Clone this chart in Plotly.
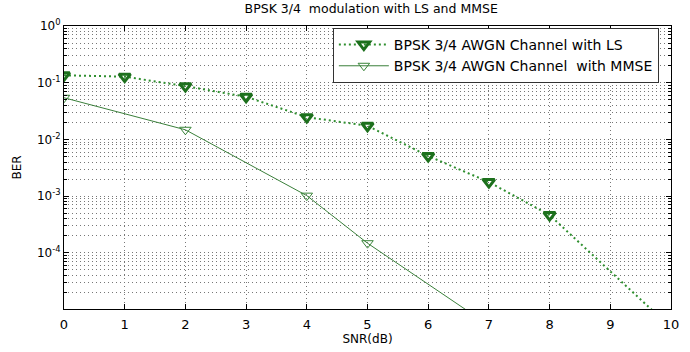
import plotly.graph_objects as go

# ---- data ----
snr_ls = [0, 1, 2, 3, 4, 5, 6, 7, 8, 10]
ber_ls = [0.135, 0.128, 0.087, 0.0565, 0.0247, 0.0174, 0.0051, 0.00177, 0.000464, 4.8e-6]

snr_mmse = [0, 2, 4, 5, 8]
ber_mmse = [0.0543, 0.0148, 0.00102, 0.000148, 1.0e-6]

x_ticks = [0, 1, 2, 3, 4, 5, 6, 7, 8, 9, 10]
x_ticktext = ["0", "1", "2", "3", "4", "5", "6", "7", "8", "9", "10"]
y_ticks = [1e-4, 1e-3, 1e-2, 1e-1, 1e0]
y_ticktext = ["10<sup>-4</sup>", "10<sup>-3</sup>", "10<sup>-2</sup>", "10<sup>-1</sup>", "10<sup>0</sup>"]

title_text = "BPSK 3/4\u00a0\u00a0modulation with LS and MMSE"
name_ls = "BPSK 3/4 AWGN Channel with LS"
name_mmse = "BPSK 3/4 AWGN Channel\u00a0\u00a0with MMSE"

FONT = "DejaVu Sans"
GRID = "#777777"

fig = go.Figure()
fig.add_trace(go.Scatter(
    x=snr_ls, y=ber_ls, name=name_ls, mode="lines+markers",
    line=dict(color="#2f8f2f", width=2, dash="2px,3px"),
    marker=dict(symbol="triangle-down-open", size=10, color="#1d701d",
                line=dict(width=3, color="#1d701d")),
))
fig.add_trace(go.Scatter(
    x=snr_mmse, y=ber_mmse, name=name_mmse, mode="lines+markers",
    line=dict(color="#3a7f3a", width=1),
    marker=dict(symbol="triangle-down-open", size=10, color="#3a853a",
                line=dict(width=1, color="#3a853a")),
))

fig.update_layout(
    width=690, height=352,
    margin=dict(l=64, r=11, t=26, b=35),
    paper_bgcolor="white", plot_bgcolor="white",
    font=dict(family=FONT, size=12, color="black"),
    title=dict(text=title_text, x=0.538, xanchor="center", y=0.975, yanchor="middle",
               font=dict(family=FONT, size=12.5, color="black")),
    legend=dict(x=0.98, xanchor="right", y=0.993, yanchor="top",
                bgcolor="white", bordercolor="#333333", borderwidth=1,
                font=dict(family=FONT, size=14, color="black"),
                tracegroupgap=0, itemwidth=50),
    showlegend=True,
)

fig.update_xaxes(
    range=[0, 10], tickmode="array", tickvals=x_ticks, ticktext=x_ticktext,
    showline=True, linecolor="black", linewidth=1, mirror="ticks",
    ticks="inside", ticklen=5, tickcolor="black",
    showgrid=True, gridcolor=GRID, griddash="1px,3px", gridwidth=1,
    zeroline=False, ticklabelstandoff=3,
    tickfont=dict(family=FONT, size=13),
    title=dict(text="SNR(dB)", standoff=1, font=dict(family=FONT, size=12)),
)

fig.update_yaxes(
    type="log", range=[-4.99, 0], tickmode="array", tickvals=y_ticks, ticktext=y_ticktext,
    showline=True, linecolor="black", linewidth=1, mirror="ticks",
    ticks="inside", ticklen=5, tickcolor="black",
    showgrid=True, gridcolor=GRID, griddash="1px,3px", gridwidth=1,
    zeroline=False,
    tickfont=dict(family=FONT, size=12),
    minor=dict(dtick="D1", ticks="inside", ticklen=3, tickcolor="black",
               showgrid=True, gridcolor=GRID, griddash="1px,3px", gridwidth=1),
    title=dict(text="BER", standoff=12, font=dict(family=FONT, size=12)),
)

fig.write_html("out.html")
